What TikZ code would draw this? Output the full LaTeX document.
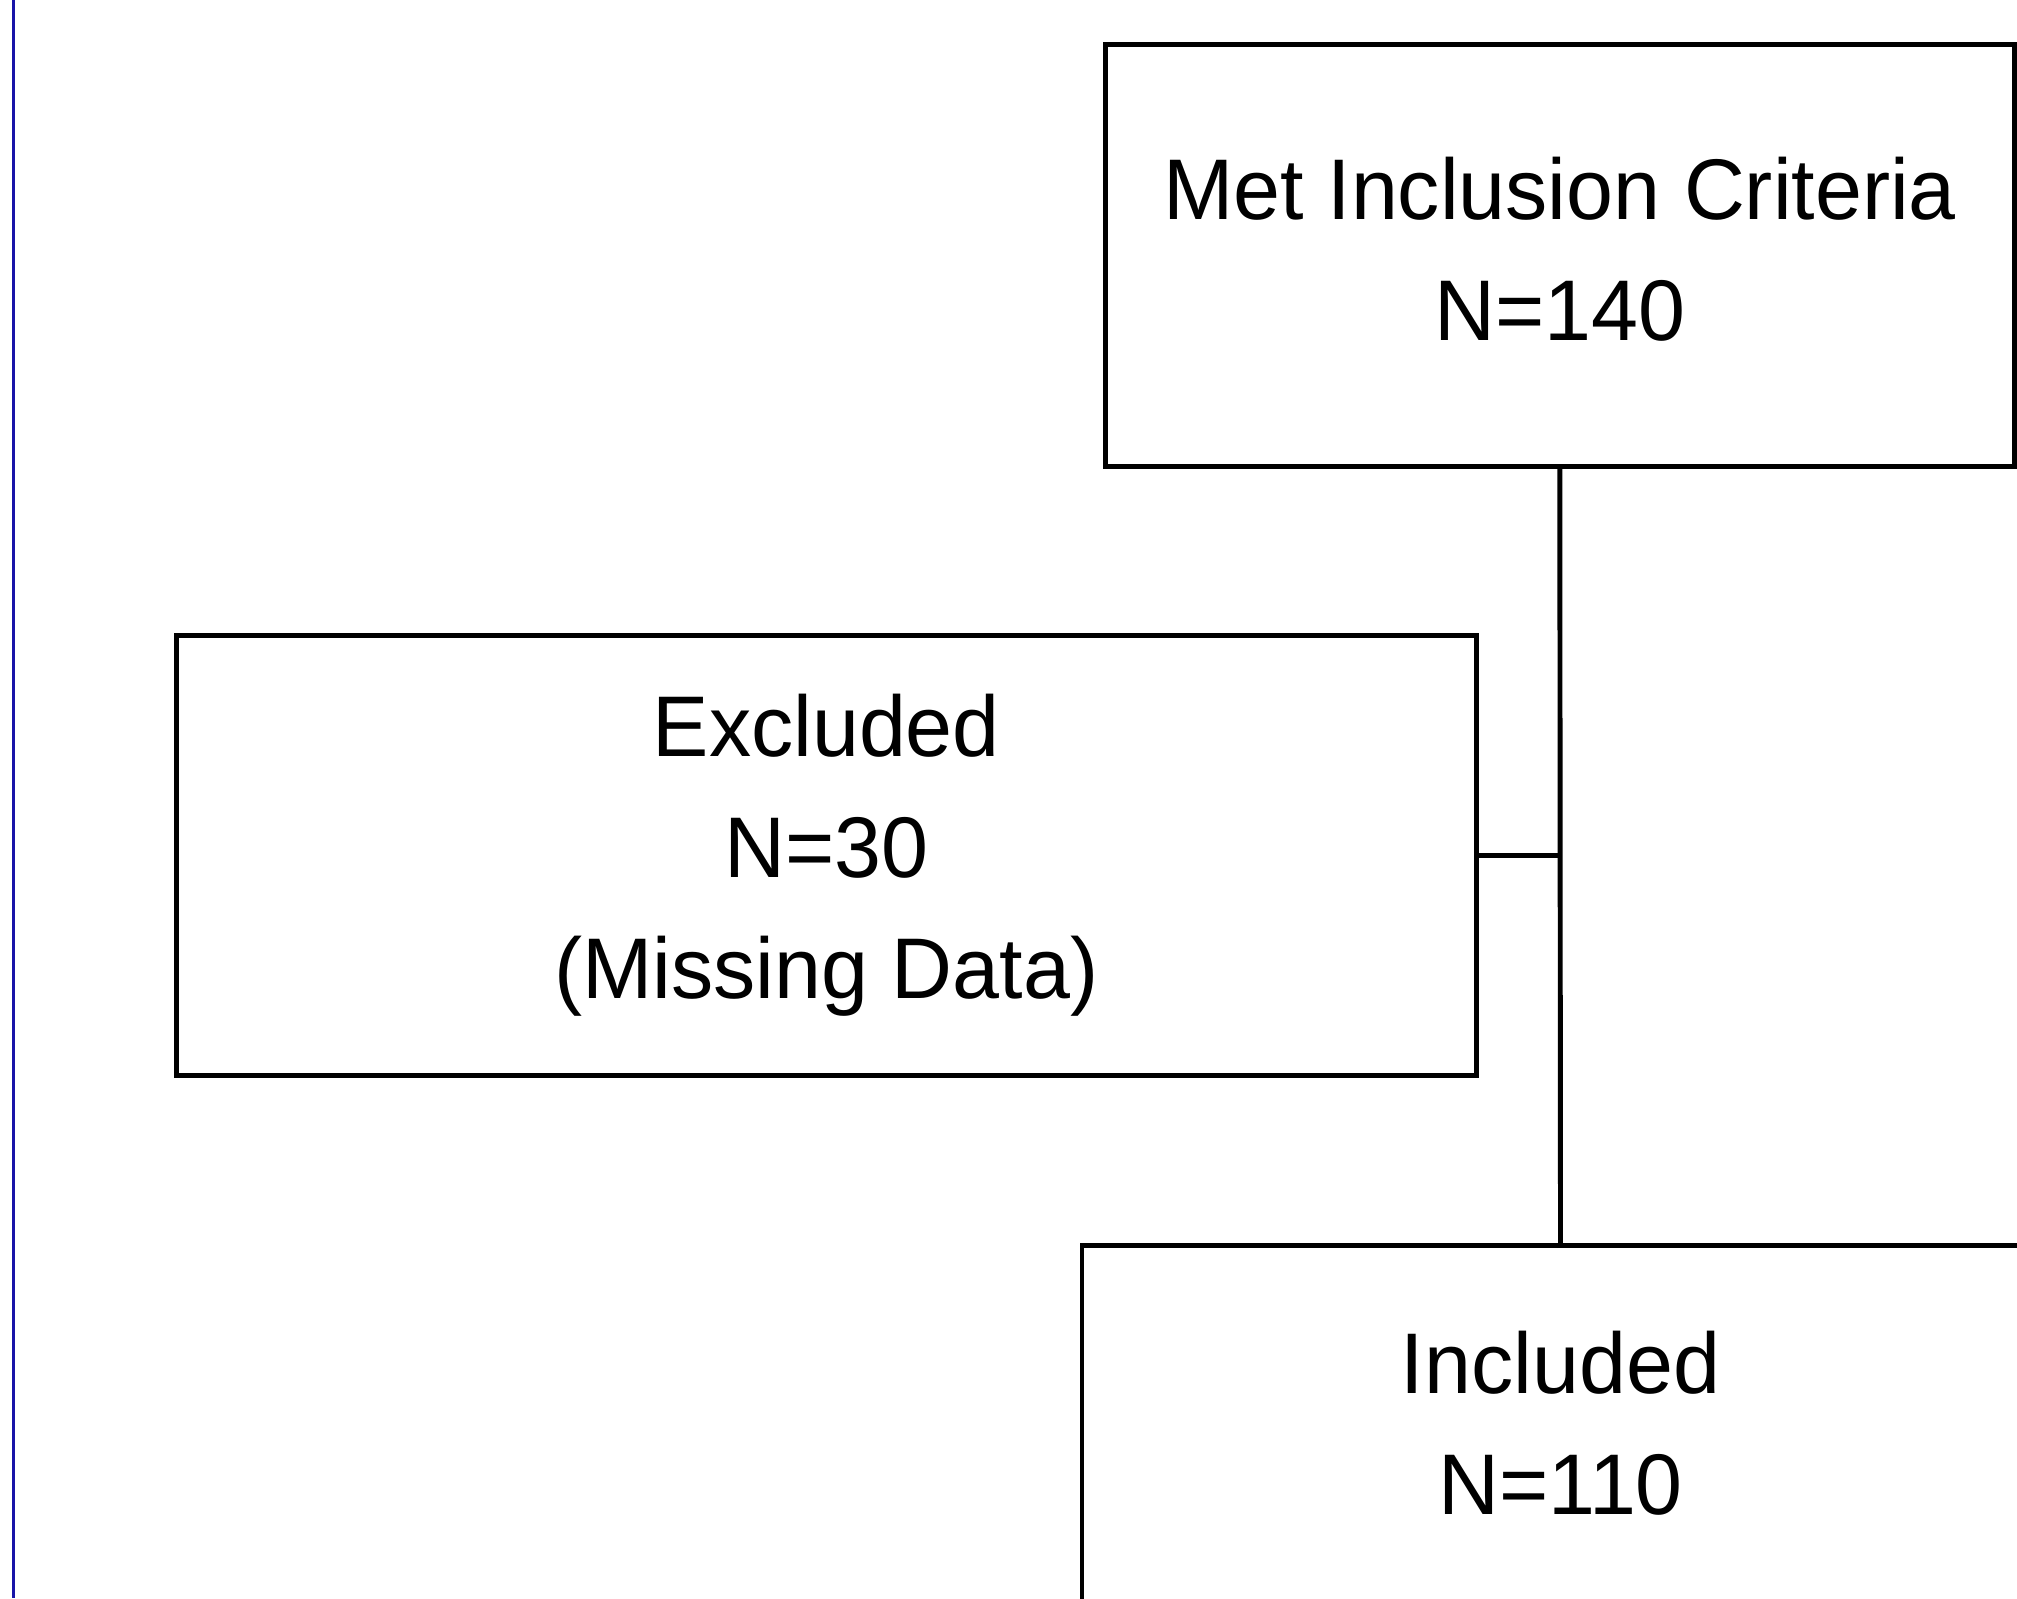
\documentclass[tikz,border=0pt]{standalone}
\usepackage{fontspec}
\setmainfont[FakeStretch=0.98]{Liberation Sans}
\usepackage{tikz}
\definecolor{marginblue}{RGB}{24,20,168}
\tikzset{
	flowbox/.style={draw=black, line width=1.4pt, align=center, inner sep=0pt,
		font=\fontsize{24.5}{34.4}\selectfont},
	flowline/.style={draw=black, line width=1.4pt}
}

\begin{document}
\begin{tikzpicture}
		%%%%% START %%%%%
		
		\useasboundingbox (0, 0) rectangle (20.17, -15.98);
		\clip (0, 0) rectangle (20.17, -15.98);
		
		\draw[line width=0.7pt, color=marginblue] (0.133, 0) -- (0.133, -15.98);
		
		\node[flowbox, minimum width=9.085cm, minimum height=4.22cm, text depth=0.13cm] (met) at (15.598, -2.555) {Met Inclusion Criteria\\N=140};
		\node[flowbox, minimum width=13.005cm, minimum height=4.405cm] (excluded) at (8.263, -8.553) {Excluded\\N=30\\(Missing Data)};
		\node[flowbox, minimum width=9.57cm, minimum height=3.56cm, anchor=north] (included) at (15.605, -12.43) {Included\\N=110};
		
		\draw[flowline] (met.south) -- (included.north);
		\draw[flowline] (excluded.east) -- (excluded.east -| met.south);
		
		%%%%% END %%%%%
	\end{tikzpicture}
\end{document}
